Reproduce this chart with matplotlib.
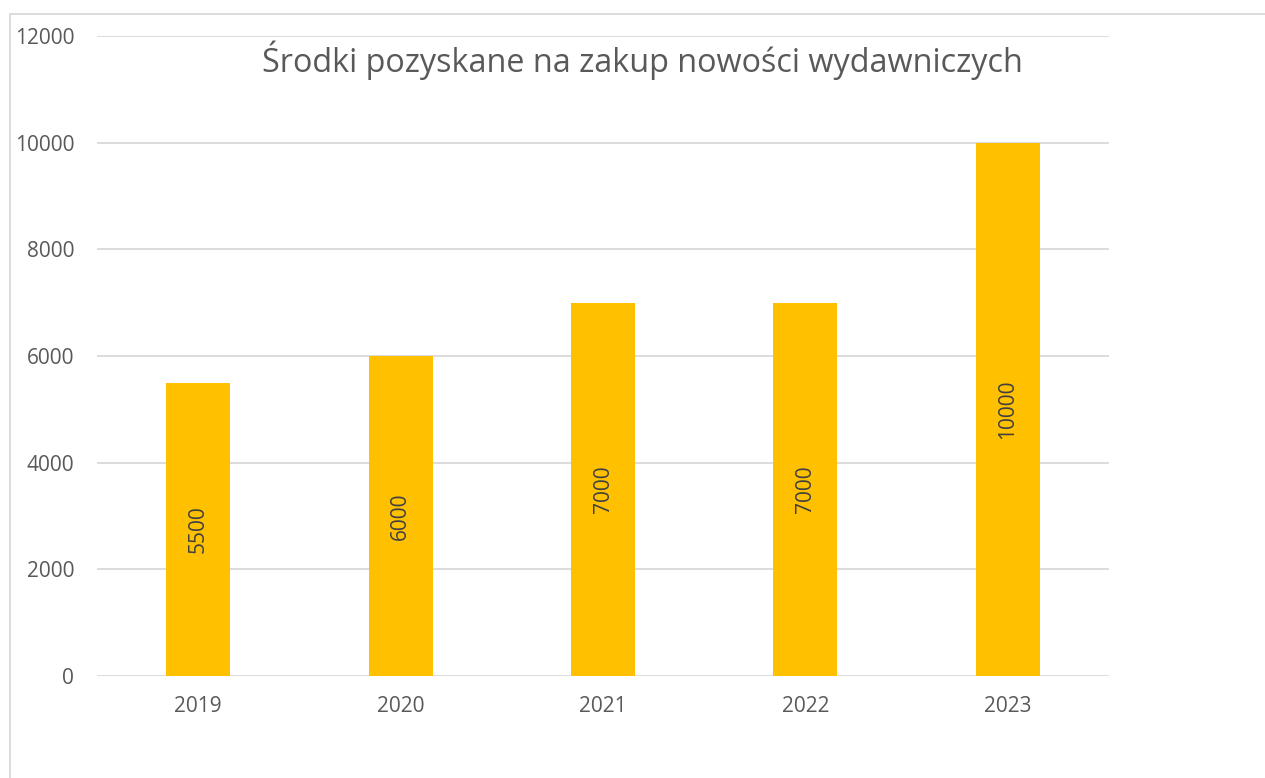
import matplotlib
matplotlib.use("Agg")
import matplotlib.pyplot as plt
from matplotlib.patches import Rectangle

years = ["2019", "2020", "2021", "2022", "2023"]
values = [5500, 6000, 7000, 7000, 10000]
title = "Środki pozyskane na zakup nowości wydawniczych"

plt.rcParams['font.family'] = ['Open Sans', 'DejaVu Sans']

W, H = 1265, 778
fig = plt.figure(figsize=(W / 100, H / 100), dpi=100)
ax = fig.add_axes([97 / W, 1 - 676 / H, (1109 - 97) / W, (676 - 36) / H])

x = range(len(years))
bars = ax.bar(x, values, width=0.316, color="#FFC000", zorder=3)
for b, v in zip(bars, values):
    ax.text(b.get_x() + b.get_width() / 2, v / 2, str(v), rotation=90,
            ha="center", va="center", fontsize=15, color="#404040", zorder=4)

ax.set_xlim(-0.5, len(years) - 0.5)
ax.set_ylim(0, 12000)
ax.set_yticks(range(0, 12001, 2000))
ax.set_xticks(list(x))
ax.set_xticklabels(years)
ax.tick_params(axis="both", length=0, labelsize=15, labelcolor="#595959")
ax.tick_params(axis="y", pad=16.5)
ax.tick_params(axis="x", pad=14.5)
ax.grid(axis="y", color="#D9D9D9", linewidth=1.3, zorder=0)
for s in ax.spines.values():
    s.set_visible(False)

fig.text(642 / W, 1 - 60 / H, title, ha="center", va="center",
         fontsize=23.3, color="#595959")

fig.add_artist(Rectangle((10 / W, -0.05), 1.1, 1 - 14 / H + 0.05,
                         transform=fig.transFigure, fill=False,
                         edgecolor="#D9D9D9", linewidth=1.3))

fig.savefig("out.png", dpi=100)
